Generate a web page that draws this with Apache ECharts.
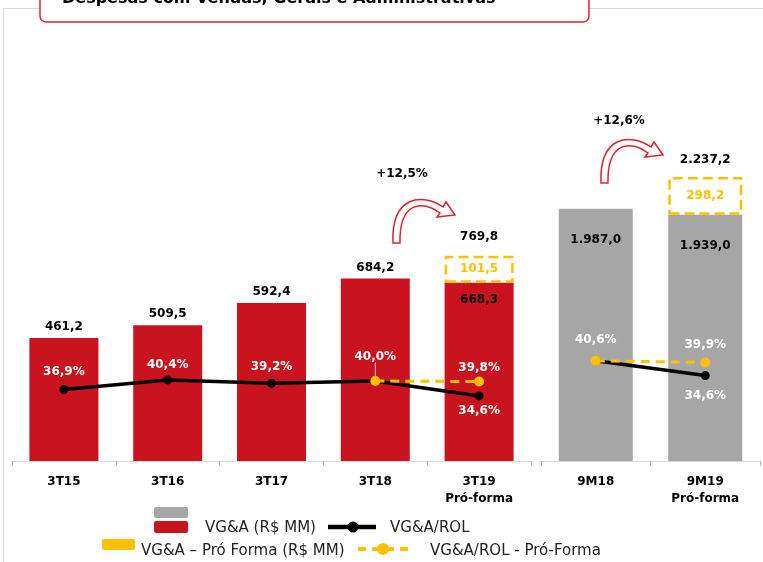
<!DOCTYPE html>
<html>
<head>
<meta charset="utf-8">
<title>Despesas com Vendas, Gerais e Administrativas</title>
<script src="https://cdn.jsdelivr.net/npm/echarts@6/dist/echarts.min.js"></script>
<style>
html, body { margin: 0; padding: 0; background: #fff; }
#chart { width: 763px; height: 562px; }
</style>
</head>
<body>
<div id="chart"></div>
<script>
// trimestres
const quarters = ['3T15', '3T16', '3T17', '3T18', '3T19\nPró-forma'];
const quarterVga = [461.2, 509.5, 592.4, 684.2, 668.3];
const quarterProForma = [null, null, null, null, 101.5];
const quarterRol = [36.9, 40.4, 39.2, 40.0, 34.6];
const quarterRolProForma = [null, null, null, 40.0, 39.8];
// acumulado 9 meses
const periods = ['9M18', '9M19\nPró-forma'];
const periodVga = [1987.0, 1939.0];
const periodProForma = [null, 298.2];
const periodRol = [40.6, 34.6];
const periodRolProForma = [40.6, 39.9];
const growth = ['+12,5%', '+12,6%'];

const FONT = 'DejaVu Sans';
const RED = '#C9141F';
const GRAY = '#A6A6A6';
const YELLOW = '#FFC000';

function fmt(v) {
  const parts = v.toFixed(1).split('.');
  parts[0] = parts[0].replace(/\B(?=(\d{3})+(?!\d))/g, '.');
  return parts[0] + ',' + parts[1];
}
function pct(v) {
  return v.toFixed(1).replace('.', ',') + '%';
}

// rotulos de percentual: [posicao, distancia, linha guia] por ponto, null = sem rotulo
function pctData(values, spots) {
  return values.map((v, i) => {
    if (v == null) return null;
    const s = spots[i];
    if (!s) return { value: v, label: { show: false } };
    return { value: v, label: { show: true, position: s[0], distance: s[1] }, labelLine: { show: !!s[2] } };
  });
}

const pctLabel = {
  color: '#fff', fontWeight: 'bold', fontSize: 12, fontFamily: FONT,
  formatter: p => pct(p.value)
};

const axisX = (grid, data) => ({
  type: 'category', gridIndex: grid, data: data,
  axisLine: { lineStyle: { color: '#D9D9D9' } },
  axisTick: { show: true, length: 5, lineStyle: { color: '#B0B0B0', width: 1 } },
  axisLabel: { color: '#000', fontWeight: 'bold', fontSize: 12, fontFamily: FONT, margin: 12, lineHeight: 17, interval: 0 }
});

// seta curva (contorno vermelho)
const arrowPath = 'M0,0 C-2,-48 30,-50 50,-36 L53,-41 L62,-28 L44,-26 L47,-30 C30,-43 6,-42 7,0 Z';
echarts.graphic.registerShape('curvedArrow', echarts.graphic.extendPath(arrowPath, {}));

const chart = echarts.init(document.getElementById('chart'));
chart.setOption({
  animation: false,
  textStyle: { fontFamily: FONT },
  grid: [
    { left: 12, width: 519, top: 61, bottom: 101 },
    { left: 541, right: 3, top: 61, bottom: 101 }
  ],
  xAxis: [axisX(0, quarters), axisX(1, periods)],
  yAxis: [
    { gridIndex: 0, min: 0, max: 1500, show: false },
    { gridIndex: 0, min: 11, max: 156, show: false },
    { gridIndex: 1, min: 0, max: 3150, show: false },
    { gridIndex: 1, min: 0, max: 162, show: false }
  ],
  series: [
    {
      type: 'bar', stack: 'q', barWidth: 69, xAxisIndex: 0, yAxisIndex: 0,
      itemStyle: { color: RED },
      label: { show: true, position: 'top', distance: 5, color: '#000', fontWeight: 'bold', fontSize: 12, fontFamily: FONT, formatter: p => fmt(p.value) },
      data: quarterVga.map((v, i) => quarterProForma[i] == null ? v : { value: v, label: { position: 'insideTop', distance: 11 } })
    },
    {
      type: 'bar', stack: 'q', barWidth: 69, xAxisIndex: 0, yAxisIndex: 0,
      itemStyle: { color: '#fff', borderColor: YELLOW, borderWidth: 2.5, borderType: 'dashed' },
      label: { show: true, position: 'inside', color: YELLOW, fontWeight: 'bold', fontSize: 12, fontFamily: FONT, formatter: p => fmt(p.value) },
      data: quarterProForma
    },
    {
      // total pro-forma
      type: 'bar', stack: 'q', barWidth: 69, xAxisIndex: 0, yAxisIndex: 0,
      itemStyle: { color: 'transparent' },
      label: { show: true, position: 'top', distance: 13, color: '#000', fontWeight: 'bold', fontSize: 12, fontFamily: FONT,
        formatter: p => fmt(quarterVga[p.dataIndex] + quarterProForma[p.dataIndex]) },
      data: quarterProForma.map(v => v == null ? null : 0)
    },
    {
      type: 'bar', stack: 'p', barWidth: 74, xAxisIndex: 1, yAxisIndex: 2,
      itemStyle: { color: GRAY },
      label: { show: true, position: 'insideTop', distance: 25, color: '#000', fontWeight: 'bold', fontSize: 12, fontFamily: FONT, formatter: p => fmt(p.value) },
      data: periodVga
    },
    {
      type: 'bar', stack: 'p', barWidth: 74, xAxisIndex: 1, yAxisIndex: 2,
      itemStyle: { color: '#fff', borderColor: YELLOW, borderWidth: 2.5, borderType: 'dashed' },
      label: { show: true, position: 'inside', color: YELLOW, fontWeight: 'bold', fontSize: 12, fontFamily: FONT, formatter: p => fmt(p.value) },
      data: periodProForma
    },
    {
      type: 'bar', stack: 'p', barWidth: 74, xAxisIndex: 1, yAxisIndex: 2,
      itemStyle: { color: 'transparent' },
      label: { show: true, position: 'top', distance: 11, color: '#000', fontWeight: 'bold', fontSize: 12, fontFamily: FONT,
        formatter: p => fmt(periodVga[p.dataIndex] + periodProForma[p.dataIndex]) },
      data: periodProForma.map(v => v == null ? null : 0)
    },
    {
      type: 'line', xAxisIndex: 0, yAxisIndex: 1,
      symbol: 'circle', symbolSize: 9,
      lineStyle: { color: '#000', width: 3.5 }, itemStyle: { color: '#000' },
      label: pctLabel,
      // rotulo do 3T18 deslocado, com linha guia
      labelLayout: p => p.dataIndex === 3 ? { dy: -12 } : {},
      labelLine: { show: false, length2: 0, lineStyle: { color: '#C8C8C8', width: 1 } },
      data: pctData(quarterRol, [['top', 7], ['top', 5], ['top', 6], ['top', 2, true], ['bottom', 4]])
    },
    {
      type: 'line', xAxisIndex: 0, yAxisIndex: 1,
      symbol: 'circle', symbolSize: 10,
      lineStyle: { color: YELLOW, width: 3, type: [9, 6] }, itemStyle: { color: YELLOW },
      label: pctLabel,
      data: pctData(quarterRolProForma, [null, null, null, null, ['top', 3]])
    },
    {
      type: 'line', xAxisIndex: 1, yAxisIndex: 3,
      symbol: 'circle', symbolSize: 9,
      lineStyle: { color: '#000', width: 3.5 }, itemStyle: { color: '#000' },
      label: pctLabel,
      data: pctData(periodRol, [['top', 10], ['bottom', 10]])
    },
    {
      type: 'line', xAxisIndex: 1, yAxisIndex: 3,
      symbol: 'circle', symbolSize: 10,
      lineStyle: { color: YELLOW, width: 3, type: [9, 6] }, itemStyle: { color: YELLOW },
      label: pctLabel,
      data: pctData(periodRolProForma, [null, ['top', 7]])
    }
  ],
  graphic: [
    // moldura e titulo
    { type: 'rect', z: -10, shape: { x: 3.5, y: 8.5, width: 800, height: 600 }, style: { fill: 'none', stroke: '#D9D9D9', lineWidth: 1 } },
    { type: 'rect', shape: { x: 40, y: -12, width: 549, height: 34, r: 6 }, style: { fill: '#fff', stroke: '#E0202A', lineWidth: 1.5 } },
    { type: 'text', style: { text: 'Despesas com Vendas, Gerais e Administrativas', x: 62, y: -1, font: 'bold 16px ' + FONT, fill: '#000', verticalAlign: 'middle' } },
    // setas de crescimento
    { type: 'curvedArrow', x: 393, y: 243, style: { fill: '#fff', stroke: '#E0202A', lineWidth: 1.5 } },
    { type: 'curvedArrow', x: 601, y: 183, style: { fill: '#fff', stroke: '#E0202A', lineWidth: 1.5 } },
    { type: 'text', style: { text: growth[0], x: 402, y: 174, font: 'bold 12px ' + FONT, fill: '#000', align: 'center', verticalAlign: 'middle' } },
    { type: 'text', style: { text: growth[1], x: 619, y: 121, font: 'bold 12px ' + FONT, fill: '#000', align: 'center', verticalAlign: 'middle' } },
    { type: 'text', style: { text: '*', x: 481, y: 438, font: '9px ' + FONT, fill: '#fff', align: 'center', verticalAlign: 'middle' } },
    // legenda
    { type: 'rect', shape: { x: 154, y: 507, width: 34, height: 11, r: 2 }, style: { fill: GRAY } },
    { type: 'rect', shape: { x: 154, y: 521, width: 34, height: 12, r: 2 }, style: { fill: RED } },
    { type: 'text', style: { text: 'VG&A (R$ MM)', x: 205, y: 528, font: '15px ' + FONT, fill: '#222', verticalAlign: 'middle' } },
    { type: 'line', shape: { x1: 328, y1: 527, x2: 376, y2: 527 }, style: { stroke: '#000', lineWidth: 4.5 } },
    { type: 'circle', shape: { cx: 353, cy: 527, r: 5.5 }, style: { fill: '#000' } },
    { type: 'text', style: { text: 'VG&A/ROL', x: 390, y: 528, font: '15px ' + FONT, fill: '#222', verticalAlign: 'middle' } },
    { type: 'rect', shape: { x: 102, y: 539, width: 33, height: 11, r: 2 }, style: { fill: YELLOW } },
    { type: 'text', style: { text: 'VG&A – Pró Forma (R$ MM)', x: 141, y: 551, font: '15px ' + FONT, fill: '#222', verticalAlign: 'middle' } },
    { type: 'line', shape: { x1: 358, y1: 549, x2: 412, y2: 549 }, style: { stroke: YELLOW, lineWidth: 4, lineDash: [8, 6] } },
    { type: 'circle', shape: { cx: 383, cy: 549, r: 6 }, style: { fill: YELLOW } },
    { type: 'text', style: { text: 'VG&A/ROL - Pró-Forma', x: 430, y: 551, font: '15px ' + FONT, fill: '#222', verticalAlign: 'middle' } }
  ]
});
</script>
</body>
</html>
